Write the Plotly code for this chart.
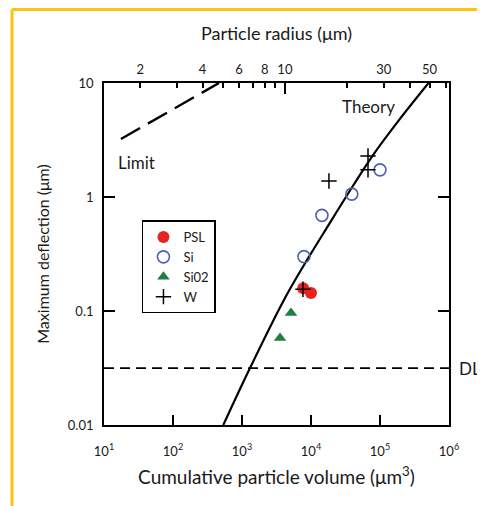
import math
import plotly.graph_objects as go

# ---- data ----
psl_v = [7700, 10000]
psl_d = [0.158, 0.144]
si_v = [7900, 14400, 39000, 100000]
si_d = [0.30, 0.69, 1.06, 1.73]
sio2_v = [3560, 5130]
sio2_d = [0.058, 0.096]
w_v = [7650, 18200, 67000, 67000]
w_d = [0.155, 1.38, 1.73, 2.29]

theory_v = [536, 1306, 4198, 7925, 17950, 41300, 79200, 188400, 505000]
theory_d = [0.01, 0.0316, 0.130, 0.2535, 0.5675, 1.274, 2.335, 4.73, 10.0]

limit_v = [17.6, 464]
limit_d = [3.23, 10.0]

dl_v = [10, 1e6]
dl_d = [0.0316, 0.0316]

x_tickvals = [10, 100, 1000, 10000, 100000, 1000000]
x_ticktext = ["10<sup>1</sup>", "10<sup>2</sup>", "10<sup>3</sup>", "10<sup>4</sup>", "10<sup>5</sup>", "10<sup>6</sup>"]
y_tickvals = [0.01, 0.1, 1, 10]
y_ticktext = ["0.01", "0.1", "1", "10"]
radius_ticks = [2, 3, 4, 5, 6, 7, 8, 9, 10, 20, 30, 40, 50, 60]
radius_labels = {2: "2", 4: "4", 6: "6", 8: "8", 10: "10", 30: "30", 50: "50"}
radius_major = [10]

FONT = "Lato, Roboto, sans-serif"
TXT = "#1a1a1a"

def vol(r):
    return 4.0 / 3.0 * math.pi * r ** 3

fig = go.Figure()

fig.add_trace(go.Scatter(x=theory_v, y=theory_d, mode="lines",
                         line=dict(color="black", width=2.2, shape="spline", smoothing=1.0),
                         showlegend=False, hoverinfo="skip"))
fig.add_trace(go.Scatter(x=limit_v, y=limit_d, mode="lines", line=dict(color="black", width=2.4, dash="22px,9px"),
                         showlegend=False, hoverinfo="skip"))
fig.add_trace(go.Scatter(x=dl_v, y=dl_d, mode="lines", line=dict(color="black", width=1.8, dash="10px,6px"),
                         showlegend=False, hoverinfo="skip"))

fig.add_trace(go.Scatter(x=psl_v, y=psl_d, mode="markers", name="PSL",
                         marker=dict(symbol="circle", size=12, color="#E8231F")))
fig.add_trace(go.Scatter(x=si_v, y=si_d, mode="markers", name="Si",
                         marker=dict(symbol="circle-open", size=12, color="#4F5FB0", line=dict(width=1.6))))
fig.add_trace(go.Scatter(x=sio2_v, y=sio2_d, mode="markers", name="Si02",
                         marker=dict(symbol="triangle-up", size=11, color="#1E8040")))
fig.add_trace(go.Scatter(x=w_v, y=w_d, mode="markers", name="W",
                         marker=dict(symbol="cross-thin-open", size=11, color="black", line=dict(width=1.5, color="black"))))

# invisible traces to instantiate top axes
fig.add_trace(go.Scatter(x=[100], y=[1], xaxis="x2", mode="markers", marker=dict(opacity=0),
                         showlegend=False, hoverinfo="skip"))
fig.add_trace(go.Scatter(x=[100], y=[1], xaxis="x3", mode="markers", marker=dict(opacity=0),
                         showlegend=False, hoverinfo="skip"))

top_vals = [vol(r) for r in radius_ticks]
top_text = [radius_labels.get(r, "") for r in radius_ticks]

# page body adds an 8px margin, so the figure itself is 8px smaller
fig.update_layout(
    width=477, height=498,
    margin=dict(l=96, r=36, t=75, b=81),
    paper_bgcolor="white", plot_bgcolor="white",
    font=dict(family=FONT, color=TXT),
    xaxis=dict(type="log", range=[1, 6], tickvals=x_tickvals, ticktext=x_ticktext,
               ticks="inside", ticklen=10, tickwidth=1.5, tickcolor="black",
               showline=True, linecolor="black", linewidth=1.8, showgrid=False, zeroline=False,
               tickfont=dict(size=13, family=FONT), ticklabelstandoff=13,
               title=dict(text="Cumulative particle volume (μm<sup>3</sup>)", font=dict(size=19, family=FONT), standoff=13)),
    xaxis2=dict(type="log", range=[1, 6], overlaying="x", side="top", anchor="y",
                tickvals=top_vals, ticktext=top_text, tickmode="array",
                ticks="inside", ticklen=5, tickwidth=1.5, tickcolor="black",
                showline=True, linecolor="black", linewidth=1.8, showgrid=False, zeroline=False,
                tickfont=dict(size=13, family=FONT), ticklabelstandoff=2,
                title=dict(text="Particle radius (μm)", font=dict(size=18, family=FONT), standoff=16)),
    xaxis3=dict(type="log", range=[1, 6], overlaying="x", side="top", anchor="y",
                tickvals=[vol(r) for r in radius_major], ticktext=[""],
                ticks="inside", ticklen=11, tickwidth=1.5, tickcolor="black",
                showline=False, showgrid=False, zeroline=False, showticklabels=False),
    yaxis=dict(type="log", range=[-2, 1], tickvals=y_tickvals, ticktext=y_ticktext,
               ticks="inside", ticklen=11, tickwidth=1.5, tickcolor="black", mirror="ticks",
               showline=True, linecolor="black", linewidth=1.8, showgrid=False, zeroline=False,
               tickfont=dict(size=13, family=FONT), ticklabelstandoff=6,
               title=dict(text="Maximum deflection (μm)", font=dict(size=16, family=FONT), standoff=14)),
    legend=dict(x=0.11, y=0.598, xanchor="left", yanchor="top", bgcolor="white",
                bordercolor="black", borderwidth=1.5, font=dict(size=13, family=FONT),
                tracegroupgap=0, itemwidth=30),
    annotations=[
        dict(text="Limit", x=1.17, y=0.307, xref="x", yref="y", showarrow=False,
             xanchor="left", yanchor="middle", font=dict(size=17, family=FONT, color=TXT)),
        dict(text="Theory", x=4.42, y=0.79, xref="x", yref="y", showarrow=False,
             xanchor="left", yanchor="middle", font=dict(size=17, family=FONT, color=TXT)),
        dict(text="DL", x=1.023, y=math.log10(0.0316), xref="paper", yref="y", showarrow=False,
             xanchor="left", yanchor="middle", font=dict(size=17, family=FONT, color=TXT)),
    ],
    shapes=[
        dict(type="line", xref="paper", yref="paper", x0=-0.2667, x1=-0.2667, y0=1.2149, y1=-0.3,
             line=dict(color="#FFC20E", width=3)),
        dict(type="line", xref="paper", yref="paper", x0=-0.2667, x1=1.2, y0=1.2149, y1=1.2149,
             line=dict(color="#FFC20E", width=3)),
    ],
)

fig.write_html("out.html")
